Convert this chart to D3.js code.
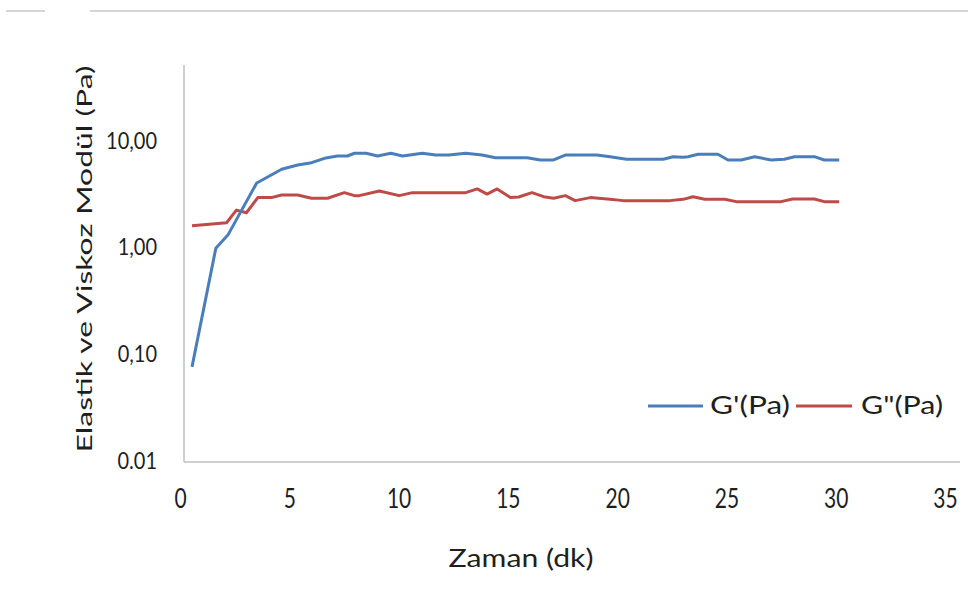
<!DOCTYPE html>
<html><head><meta charset="utf-8">
<script src="https://cdn.jsdelivr.net/npm/d3@7"></script>
<style>
html,body{margin:0;padding:0;background:#fff;}
svg text{font-family:Lato,"Open Sans",sans-serif;fill:#1e1e1e;}
</style></head>
<body>
<svg id="chart" width="968" height="613"></svg>
<script>
// ---- data ----
const seriesNames = ["G'(Pa)", 'G"(Pa)'];
const gPrimeTime = [0.55,1.64,2.19,3.51,4.01,4.65,5.38,6.02,6.61,7.20,7.66,7.98,8.20,8.51,9.04,9.65,10.18,11.09,11.70,12.31,13.07,13.82,14.43,15.50,15.88,16.49,17.09,17.63,19.07,19.68,20.43,22.11,22.56,23.02,23.25,23.70,24.61,25.07,25.68,26.29,27.04,27.65,28.11,29.02,29.48,30.16];
const gPrimeValue = [0.078,1.01,1.34,4.13,4.70,5.55,6.09,6.40,7.03,7.39,7.39,7.84,7.84,7.84,7.39,7.84,7.39,7.84,7.55,7.55,7.84,7.55,7.13,7.13,7.13,6.78,6.78,7.55,7.55,7.28,6.89,6.89,7.28,7.20,7.28,7.67,7.67,6.78,6.78,7.28,6.78,6.89,7.28,7.28,6.78,6.78];
const gDoubleTime = [0.55,2.13,2.58,3.04,3.56,4.18,4.65,5.38,6.02,6.75,7.52,7.98,8.20,9.12,10.03,10.63,13.07,13.60,14.05,14.51,15.12,15.50,16.10,16.64,17.09,17.63,18.08,18.77,19.68,20.28,22.41,23.02,23.47,24.01,24.92,25.45,27.50,28.03,29.02,29.48,30.16];
const gDoubleValue = [1.64,1.75,2.30,2.17,3.01,3.01,3.18,3.18,2.97,2.97,3.35,3.14,3.14,3.47,3.14,3.35,3.35,3.63,3.25,3.63,3.01,3.05,3.35,3.07,2.97,3.14,2.82,3.01,2.90,2.82,2.82,2.90,3.07,2.90,2.90,2.76,2.76,2.92,2.92,2.76,2.76];
const xTicks = [0,5,10,15,20,25,30,35];
const yTicks = [0.01,0.1,1,10];
const yTickLabels = ["0.01","0,10","1,00","10,00"];
const colors = ["#4A7EBB","#BE4B48"];
const yTitle = "Elastik ve Viskoz Modül (Pa)";
const xTitle = "Zaman (dk)";

// ---- scales ----
const svg = d3.select("#chart");
const x = d3.scaleLinear().domain([0,35]).range([180,945]);
const y = d3.scaleLog().domain([0.01, Math.pow(10,-2+397/106.67)]).range([462,65]);

// top decorative rules
svg.append("line").attr("x1",6).attr("x2",45).attr("y1",11).attr("y2",11).attr("stroke","#d6d6d6").attr("stroke-width",2);
svg.append("line").attr("x1",90).attr("x2",968).attr("y1",11).attr("y2",11).attr("stroke","#d6d6d6").attr("stroke-width",2);

// axes
const yAxis = d3.axisLeft(y).tickValues(yTicks).tickSize(0).tickPadding(0)
  .tickFormat((d,i)=>yTickLabels[i]);
const gy = svg.append("g").attr("transform","translate(157,-2)").call(yAxis);
gy.select(".domain").remove();
gy.selectAll("text").attr("font-size",20).attr("fill","#1e1e1e").attr("font-family","Lato,sans-serif")
  .attr("x",0).attr("dy","0.36em").attr("transform","scale(1,1.12)");

const xAxis = d3.axisBottom(x).tickValues(xTicks).tickSize(0).tickPadding(0).tickFormat(d3.format("d"));
const gx = svg.append("g").call(xAxis);
gx.select(".domain").remove();
gx.selectAll("text").attr("font-size",21).attr("fill","#1e1e1e").attr("font-family","Lato,sans-serif")
  .attr("y",0).attr("dy",0).attr("transform","translate(0,508) scale(1,1.3)");

// axis lines
svg.append("line").attr("x1",184).attr("x2",184).attr("y1",y.range()[1]).attr("y2",y(0.01)).attr("stroke","#bfbfbf").attr("stroke-width",1.5);
svg.append("line").attr("x1",184).attr("x2",960).attr("y1",y(0.01)).attr("y2",y(0.01)).attr("stroke","#bfbfbf").attr("stroke-width",1.5);

// series
const line = d3.line().x(d=>x(d[0])).y(d=>y(d[1]));
const s1 = gPrimeTime.map((t,i)=>[t,gPrimeValue[i]]);
const s2 = gDoubleTime.map((t,i)=>[t,gDoubleValue[i]]);
svg.append("path").datum(s2).attr("d",line).attr("fill","none").attr("stroke",colors[1]).attr("stroke-width",3).attr("stroke-linejoin","round");
svg.append("path").datum(s1).attr("d",line).attr("fill","none").attr("stroke",colors[0]).attr("stroke-width",3).attr("stroke-linejoin","round");

// titles
svg.append("text").attr("transform","translate(92,259) rotate(-90)").attr("text-anchor","middle")
  .attr("font-size",21).attr("textLength",387).attr("lengthAdjust","spacingAndGlyphs").text(yTitle);
svg.append("text").attr("transform","translate(521,567) scale(1,1.15)").attr("text-anchor","middle")
  .attr("font-size",22).attr("textLength",145).attr("lengthAdjust","spacingAndGlyphs").text(xTitle);

// legend
const leg = [{x1:648,x2:703,tx:710,tl:80},{x1:796,x2:852,tx:861,tl:82}];
leg.forEach((l,i)=>{
  svg.append("line").attr("x1",l.x1).attr("x2",l.x2).attr("y1",406).attr("y2",406).attr("stroke",colors[i]).attr("stroke-width",3);
  svg.append("text").attr("transform",`translate(${l.tx},414) scale(1,1.1)`).attr("font-size",22).attr("textLength",l.tl).attr("lengthAdjust","spacingAndGlyphs").text(seriesNames[i]);
});
</script>
</body></html>
